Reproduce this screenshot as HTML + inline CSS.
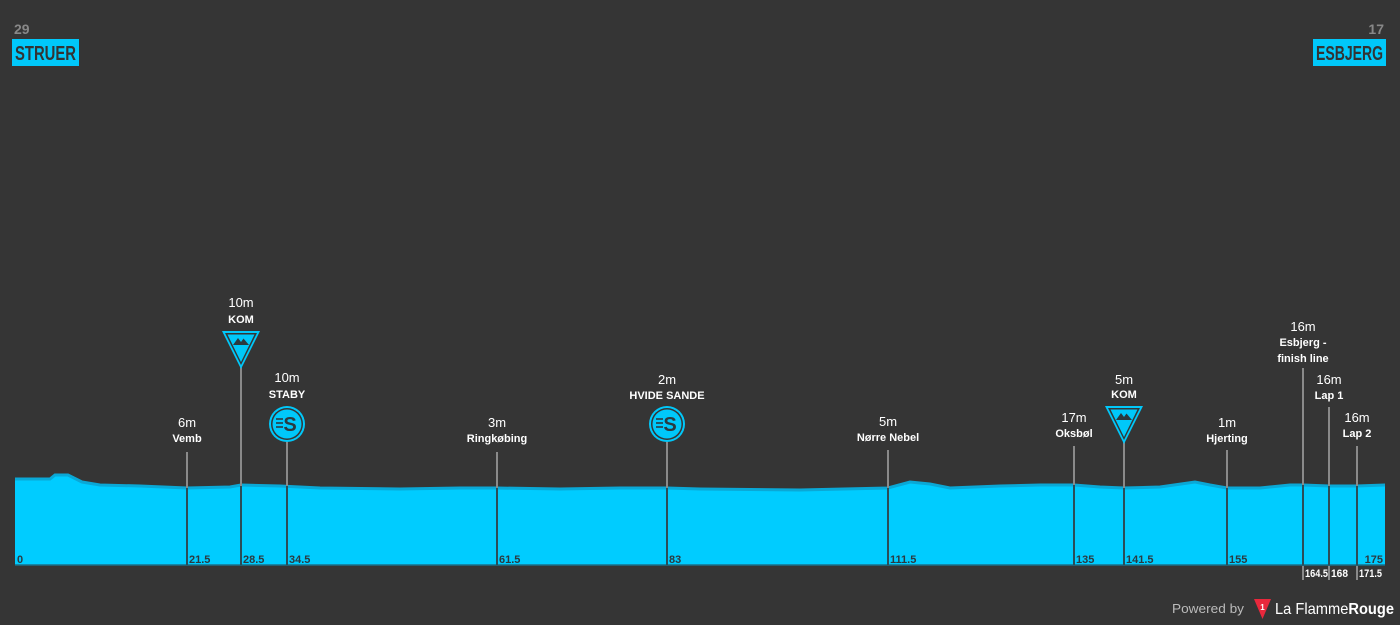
<!DOCTYPE html>
<html><head><meta charset="utf-8"><style>
html,body{margin:0;padding:0;background:#353535;overflow:hidden;}
svg{display:block;}
text{font-family:"Liberation Sans",sans-serif;}
.e{fill:#fff;font-size:13px;text-anchor:middle;}
.n{fill:#fff;font-size:11px;font-weight:bold;text-anchor:middle;}
.k{fill:#2b3a40;font-size:11px;font-weight:bold;}
.kw{fill:#fff;font-size:11px;font-weight:bold;}
</style></head><body>
<svg width="1400" height="625" viewBox="0 0 1400 625" xmlns="http://www.w3.org/2000/svg">
<rect width="1400" height="625" fill="#353535"/>
<text x="14" y="34" fill="#888" font-size="14" font-weight="bold">29</text>
<rect x="12" y="39" width="67" height="27" fill="#00c8fa"/>
<text x="45.5" y="60" fill="#333" font-size="20" font-weight="bold" text-anchor="middle" textLength="61" lengthAdjust="spacingAndGlyphs">STRUER</text>
<text x="1384" y="34" fill="#888" font-size="14" font-weight="bold" text-anchor="end">17</text>
<rect x="1313" y="39" width="73" height="27" fill="#00c8fa"/>
<text x="1349.5" y="60" fill="#333" font-size="20" font-weight="bold" text-anchor="middle" textLength="67" lengthAdjust="spacingAndGlyphs">ESBJERG</text>
<path d="M15,479 L50,479 L55,475 L68,475 L82,482 L100,485 L140,486 L187,488 L230,487 L241,485 L280,486 L320,488 L400,489 L460,488 L497,488 L560,489 L620,488 L667,488 L700,489 L800,490 L888,488 L910,482 L930,484 L950,488 L1000,486 L1040,485 L1074,485 L1100,487 L1124,488 L1160,487 L1195,482 L1210,485 L1227,488 L1260,488 L1290,485 L1303,485 L1329,486 L1357,486 L1385,485 L1385,565 L15,565 Z" fill="#00ccff"/>
<path d="M15,479 L50,479 L55,475 L68,475 L82,482 L100,485 L140,486 L187,488 L230,487 L241,485 L280,486 L320,488 L400,489 L460,488 L497,488 L560,489 L620,488 L667,488 L700,489 L800,490 L888,488 L910,482 L930,484 L950,488 L1000,486 L1040,485 L1074,485 L1100,487 L1124,488 L1160,487 L1195,482 L1210,485 L1227,488 L1260,488 L1290,485 L1303,485 L1329,486 L1357,486 L1385,485" fill="none" stroke="#0aa8d6" stroke-width="3"/>
<line x1="15" y1="565" x2="1385" y2="565" stroke="#1b6e88" stroke-width="1.5"/>
<g stroke="#8a8a8a" stroke-width="2">
<line x1="187" y1="452" x2="187" y2="488"/>
<line x1="241" y1="362" x2="241" y2="486"/>
<line x1="287" y1="442" x2="287" y2="486"/>
<line x1="497" y1="452" x2="497" y2="488"/>
<line x1="667" y1="442" x2="667" y2="488"/>
<line x1="888" y1="450" x2="888" y2="488"/>
<line x1="1074" y1="446" x2="1074" y2="485"/>
<line x1="1124" y1="440" x2="1124" y2="488"/>
<line x1="1227" y1="450" x2="1227" y2="488"/>
<line x1="1303" y1="368" x2="1303" y2="485"/>
<line x1="1329" y1="407" x2="1329" y2="486"/>
<line x1="1357" y1="446" x2="1357" y2="486"/>
</g>
<g stroke="#2b4d58" stroke-width="2">
<line x1="187" y1="488" x2="187" y2="565"/>
<line x1="241" y1="486" x2="241" y2="565"/>
<line x1="287" y1="486" x2="287" y2="565"/>
<line x1="497" y1="488" x2="497" y2="565"/>
<line x1="667" y1="488" x2="667" y2="565"/>
<line x1="888" y1="488" x2="888" y2="565"/>
<line x1="1074" y1="485" x2="1074" y2="565"/>
<line x1="1124" y1="488" x2="1124" y2="565"/>
<line x1="1227" y1="488" x2="1227" y2="565"/>
<line x1="1303" y1="485" x2="1303" y2="565"/>
<line x1="1329" y1="486" x2="1329" y2="565"/>
<line x1="1357" y1="486" x2="1357" y2="565"/>
</g>
<g stroke="#8a8a8a" stroke-width="2">
<line x1="1303" y1="566" x2="1303" y2="580"/>
<line x1="1329" y1="566" x2="1329" y2="580"/>
<line x1="1357" y1="566" x2="1357" y2="580"/>
</g>
<g>
<polygon points="222,331 260,331 241,369" fill="#00c8fa"/>
<polygon points="225,333 257,333 241,365" fill="#353535"/>
<polygon points="227.5,334.5 254.5,334.5 241,362" fill="#00c8fa"/>
<polygon points="233,345 238,338 241,342 243.5,338.5 249,345" fill="#2b3a40"/>
</g>
<g>
<polygon points="1105,406 1143,406 1124,444" fill="#00c8fa"/>
<polygon points="1108,408 1140,408 1124,440" fill="#353535"/>
<polygon points="1110.5,409.5 1137.5,409.5 1124,437" fill="#00c8fa"/>
<polygon points="1116,420 1121,413 1124,417 1126.5,413.5 1132,420" fill="#2b3a40"/>
</g>
<g>
<circle cx="287" cy="424" r="18" fill="#00c8fa"/>
<circle cx="287" cy="424" r="16" fill="#353535"/>
<circle cx="287" cy="424" r="14.5" fill="#00c8fa"/>
<text x="290" y="431" fill="#2b3a40" font-size="20" font-weight="bold" text-anchor="middle">S</text>
<g stroke="#2b3a40" stroke-width="1.6"><line x1="276" y1="419" x2="283" y2="419"/><line x1="276" y1="423" x2="283" y2="423"/><line x1="276" y1="427" x2="283" y2="427"/></g>
</g>
<g>
<circle cx="667" cy="424" r="18" fill="#00c8fa"/>
<circle cx="667" cy="424" r="16" fill="#353535"/>
<circle cx="667" cy="424" r="14.5" fill="#00c8fa"/>
<text x="670" y="431" fill="#2b3a40" font-size="20" font-weight="bold" text-anchor="middle">S</text>
<g stroke="#2b3a40" stroke-width="1.6"><line x1="656" y1="419" x2="663" y2="419"/><line x1="656" y1="423" x2="663" y2="423"/><line x1="656" y1="427" x2="663" y2="427"/></g>
</g>
<text class="e" x="187" y="427">6m</text><text class="n" x="187" y="442">Vemb</text>
<text class="e" x="241" y="307">10m</text><text class="n" x="241" y="323">KOM</text>
<text class="e" x="287" y="382">10m</text><text class="n" x="287" y="398">STABY</text>
<text class="e" x="497" y="427">3m</text><text class="n" x="497" y="442">Ringkøbing</text>
<text class="e" x="667" y="384">2m</text><text class="n" x="667" y="399">HVIDE SANDE</text>
<text class="e" x="888" y="426">5m</text><text class="n" x="888" y="441">Nørre Nebel</text>
<text class="e" x="1074" y="422">17m</text><text class="n" x="1074" y="437">Oksbøl</text>
<text class="e" x="1124" y="384">5m</text><text class="n" x="1124" y="398">KOM</text>
<text class="e" x="1227" y="427">1m</text><text class="n" x="1227" y="442">Hjerting</text>
<text class="e" x="1303" y="331">16m</text><text class="n" x="1303" y="346">Esbjerg -</text><text class="n" x="1303" y="362">finish line</text>
<text class="e" x="1329" y="384">16m</text><text class="n" x="1329" y="399">Lap 1</text>
<text class="e" x="1357" y="422">16m</text><text class="n" x="1357" y="437">Lap 2</text>
<text class="k" x="17" y="563">0</text>
<text class="k" x="189" y="563">21.5</text>
<text class="k" x="243" y="563">28.5</text>
<text class="k" x="289" y="563">34.5</text>
<text class="k" x="499" y="563">61.5</text>
<text class="k" x="669" y="563">83</text>
<text class="k" x="890" y="563">111.5</text>
<text class="k" x="1076" y="563">135</text>
<text class="k" x="1126" y="563">141.5</text>
<text class="k" x="1229" y="563">155</text>
<text class="k" x="1383" y="563" text-anchor="end">175</text>
<text class="kw" x="1305" y="577" textLength="23" lengthAdjust="spacingAndGlyphs">164.5</text>
<text class="kw" x="1331" y="577" textLength="17" lengthAdjust="spacingAndGlyphs">168</text>
<text class="kw" x="1359" y="577" textLength="23" lengthAdjust="spacingAndGlyphs">171.5</text>
<text x="1244" y="613" fill="#bbb" font-size="13" text-anchor="end" textLength="72" lengthAdjust="spacingAndGlyphs">Powered by</text>
<polygon points="1254,599 1271,599 1262.5,619" fill="#e8283c"/>
<text x="1262.5" y="610" fill="#fff" font-size="8" font-weight="bold" text-anchor="middle">1</text>
<text x="1275" y="614" fill="#fff" font-size="16" textLength="119" lengthAdjust="spacingAndGlyphs">La Flamme<tspan font-weight="bold">Rouge</tspan></text>
</svg>
</body></html>
